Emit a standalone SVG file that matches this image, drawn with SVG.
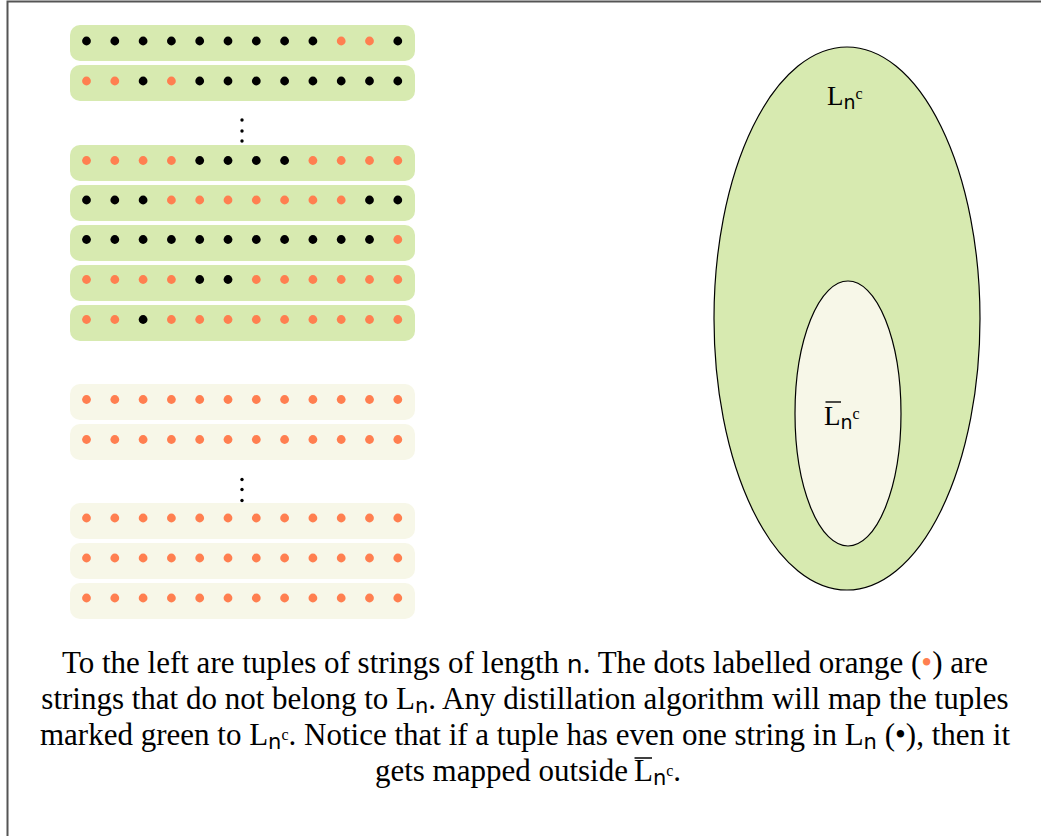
<svg xmlns="http://www.w3.org/2000/svg" xmlns:xlink="http://www.w3.org/1999/xlink" width="1041" height="836" viewBox="0 0 1041 836">
<style>
.g{fill:#d7eab0}
.b{fill:#f7f7e8}
.o{fill:#ff7f50}
.k{fill:#000}
.t{font-family:"Liberation Serif",serif;font-size:31px;fill:#000}
.lab{font-family:"Liberation Serif",serif;font-size:27px;fill:#000}
.m{font-family:"DejaVu Sans","Noto Sans",sans-serif}
</style>
<defs>
<circle id="O" r="4.4" class="o"/>
<circle id="B" r="4.4" class="k"/>
</defs>
<rect width="1041" height="836" fill="#fff"/>
<path d="M7.5 836V1.5H1041" fill="none" stroke="#555" stroke-width="2"/>
<g id="tuples-green">
<g id="row1"><rect x="70" y="25" width="345" height="36" rx="10" class="g"/>
<use xlink:href="#B" x="86.5" y="41"/><use xlink:href="#B" x="114.8" y="41"/><use xlink:href="#B" x="143.1" y="41"/><use xlink:href="#B" x="171.4" y="41"/><use xlink:href="#B" x="199.7" y="41"/><use xlink:href="#B" x="228" y="41"/><use xlink:href="#B" x="256.3" y="41"/><use xlink:href="#B" x="284.6" y="41"/><use xlink:href="#B" x="312.9" y="41"/><use xlink:href="#O" x="341.2" y="41"/><use xlink:href="#O" x="369.5" y="41"/><use xlink:href="#B" x="397.8" y="41"/></g>
<g id="row2"><rect x="70" y="65" width="345" height="36" rx="10" class="g"/>
<use xlink:href="#O" x="86.5" y="81"/><use xlink:href="#O" x="114.8" y="81"/><use xlink:href="#B" x="143.1" y="81"/><use xlink:href="#O" x="171.4" y="81"/><use xlink:href="#B" x="199.7" y="81"/><use xlink:href="#B" x="228" y="81"/><use xlink:href="#B" x="256.3" y="81"/><use xlink:href="#B" x="284.6" y="81"/><use xlink:href="#B" x="312.9" y="81"/><use xlink:href="#B" x="341.2" y="81"/><use xlink:href="#B" x="369.5" y="81"/><use xlink:href="#B" x="397.8" y="81"/></g>
<g id="vdots1"><circle cx="242" cy="120" r="1.7"/><circle cx="242" cy="131" r="1.7"/><circle cx="242" cy="141" r="1.7"/></g>
<g id="row3"><rect x="70" y="145" width="345" height="36" rx="10" class="g"/>
<use xlink:href="#O" x="86.5" y="160.5"/><use xlink:href="#O" x="114.8" y="160.5"/><use xlink:href="#O" x="143.1" y="160.5"/><use xlink:href="#O" x="171.4" y="160.5"/><use xlink:href="#B" x="199.7" y="160.5"/><use xlink:href="#B" x="228" y="160.5"/><use xlink:href="#B" x="256.3" y="160.5"/><use xlink:href="#B" x="284.6" y="160.5"/><use xlink:href="#O" x="312.9" y="160.5"/><use xlink:href="#O" x="341.2" y="160.5"/><use xlink:href="#O" x="369.5" y="160.5"/><use xlink:href="#O" x="397.8" y="160.5"/></g>
<g id="row4"><rect x="70" y="185" width="345" height="36" rx="10" class="g"/>
<use xlink:href="#B" x="86.5" y="200"/><use xlink:href="#B" x="114.8" y="200"/><use xlink:href="#B" x="143.1" y="200"/><use xlink:href="#O" x="171.4" y="200"/><use xlink:href="#O" x="199.7" y="200"/><use xlink:href="#O" x="228" y="200"/><use xlink:href="#O" x="256.3" y="200"/><use xlink:href="#O" x="284.6" y="200"/><use xlink:href="#O" x="312.9" y="200"/><use xlink:href="#O" x="341.2" y="200"/><use xlink:href="#B" x="369.5" y="200"/><use xlink:href="#B" x="397.8" y="200"/></g>
<g id="row5"><rect x="70" y="225" width="345" height="36" rx="10" class="g"/>
<use xlink:href="#B" x="86.5" y="239.5"/><use xlink:href="#B" x="114.8" y="239.5"/><use xlink:href="#B" x="143.1" y="239.5"/><use xlink:href="#B" x="171.4" y="239.5"/><use xlink:href="#B" x="199.7" y="239.5"/><use xlink:href="#B" x="228" y="239.5"/><use xlink:href="#B" x="256.3" y="239.5"/><use xlink:href="#B" x="284.6" y="239.5"/><use xlink:href="#B" x="312.9" y="239.5"/><use xlink:href="#B" x="341.2" y="239.5"/><use xlink:href="#B" x="369.5" y="239.5"/><use xlink:href="#O" x="397.8" y="239.5"/></g>
<g id="row6"><rect x="70" y="265" width="345" height="36" rx="10" class="g"/>
<use xlink:href="#O" x="86.5" y="279.5"/><use xlink:href="#O" x="114.8" y="279.5"/><use xlink:href="#O" x="143.1" y="279.5"/><use xlink:href="#O" x="171.4" y="279.5"/><use xlink:href="#B" x="199.7" y="279.5"/><use xlink:href="#B" x="228" y="279.5"/><use xlink:href="#O" x="256.3" y="279.5"/><use xlink:href="#O" x="284.6" y="279.5"/><use xlink:href="#O" x="312.9" y="279.5"/><use xlink:href="#O" x="341.2" y="279.5"/><use xlink:href="#O" x="369.5" y="279.5"/><use xlink:href="#O" x="397.8" y="279.5"/></g>
<g id="row7"><rect x="70" y="305" width="345" height="36" rx="10" class="g"/>
<use xlink:href="#O" x="86.5" y="319.5"/><use xlink:href="#O" x="114.8" y="319.5"/><use xlink:href="#B" x="143.1" y="319.5"/><use xlink:href="#O" x="171.4" y="319.5"/><use xlink:href="#O" x="199.7" y="319.5"/><use xlink:href="#O" x="228" y="319.5"/><use xlink:href="#O" x="256.3" y="319.5"/><use xlink:href="#O" x="284.6" y="319.5"/><use xlink:href="#O" x="312.9" y="319.5"/><use xlink:href="#O" x="341.2" y="319.5"/><use xlink:href="#O" x="369.5" y="319.5"/><use xlink:href="#O" x="397.8" y="319.5"/></g>
</g>
<g id="tuples-beige">
<g id="row8"><rect x="70" y="384" width="345" height="36" rx="10" class="b"/>
<use xlink:href="#O" x="86.5" y="399.5"/><use xlink:href="#O" x="114.8" y="399.5"/><use xlink:href="#O" x="143.1" y="399.5"/><use xlink:href="#O" x="171.4" y="399.5"/><use xlink:href="#O" x="199.7" y="399.5"/><use xlink:href="#O" x="228" y="399.5"/><use xlink:href="#O" x="256.3" y="399.5"/><use xlink:href="#O" x="284.6" y="399.5"/><use xlink:href="#O" x="312.9" y="399.5"/><use xlink:href="#O" x="341.2" y="399.5"/><use xlink:href="#O" x="369.5" y="399.5"/><use xlink:href="#O" x="397.8" y="399.5"/></g>
<g id="row9"><rect x="70" y="424" width="345" height="36" rx="10" class="b"/>
<use xlink:href="#O" x="86.5" y="439.5"/><use xlink:href="#O" x="114.8" y="439.5"/><use xlink:href="#O" x="143.1" y="439.5"/><use xlink:href="#O" x="171.4" y="439.5"/><use xlink:href="#O" x="199.7" y="439.5"/><use xlink:href="#O" x="228" y="439.5"/><use xlink:href="#O" x="256.3" y="439.5"/><use xlink:href="#O" x="284.6" y="439.5"/><use xlink:href="#O" x="312.9" y="439.5"/><use xlink:href="#O" x="341.2" y="439.5"/><use xlink:href="#O" x="369.5" y="439.5"/><use xlink:href="#O" x="397.8" y="439.5"/></g>
<g id="vdots2"><circle cx="242" cy="479.5" r="1.7"/><circle cx="242" cy="489.5" r="1.7"/><circle cx="242" cy="500.5" r="1.7"/></g>
<g id="row10"><rect x="70" y="503" width="345" height="36" rx="10" class="b"/>
<use xlink:href="#O" x="86.5" y="518"/><use xlink:href="#O" x="114.8" y="518"/><use xlink:href="#O" x="143.1" y="518"/><use xlink:href="#O" x="171.4" y="518"/><use xlink:href="#O" x="199.7" y="518"/><use xlink:href="#O" x="228" y="518"/><use xlink:href="#O" x="256.3" y="518"/><use xlink:href="#O" x="284.6" y="518"/><use xlink:href="#O" x="312.9" y="518"/><use xlink:href="#O" x="341.2" y="518"/><use xlink:href="#O" x="369.5" y="518"/><use xlink:href="#O" x="397.8" y="518"/></g>
<g id="row11"><rect x="70" y="543" width="345" height="36" rx="10" class="b"/>
<use xlink:href="#O" x="86.5" y="558"/><use xlink:href="#O" x="114.8" y="558"/><use xlink:href="#O" x="143.1" y="558"/><use xlink:href="#O" x="171.4" y="558"/><use xlink:href="#O" x="199.7" y="558"/><use xlink:href="#O" x="228" y="558"/><use xlink:href="#O" x="256.3" y="558"/><use xlink:href="#O" x="284.6" y="558"/><use xlink:href="#O" x="312.9" y="558"/><use xlink:href="#O" x="341.2" y="558"/><use xlink:href="#O" x="369.5" y="558"/><use xlink:href="#O" x="397.8" y="558"/></g>
<g id="row12"><rect x="70" y="583" width="345" height="36" rx="10" class="b"/>
<use xlink:href="#O" x="86.5" y="598"/><use xlink:href="#O" x="114.8" y="598"/><use xlink:href="#O" x="143.1" y="598"/><use xlink:href="#O" x="171.4" y="598"/><use xlink:href="#O" x="199.7" y="598"/><use xlink:href="#O" x="228" y="598"/><use xlink:href="#O" x="256.3" y="598"/><use xlink:href="#O" x="284.6" y="598"/><use xlink:href="#O" x="312.9" y="598"/><use xlink:href="#O" x="341.2" y="598"/><use xlink:href="#O" x="369.5" y="598"/><use xlink:href="#O" x="397.8" y="598"/></g>
</g>
<g id="outer-set">
<ellipse cx="847" cy="318.5" rx="133" ry="271.5" class="g" stroke="#000" stroke-width="1.2"/>
<text class="lab" x="827" y="105">L<tspan class="m" font-size="19" dy="4">n</tspan><tspan font-size="16" dy="-10">c</tspan></text>
</g>
<g id="inner-set">
<ellipse cx="848" cy="413.5" rx="53" ry="132.5" class="b" stroke="#000" stroke-width="1.2"/>
<line x1="825.5" y1="402" x2="841" y2="402" stroke="#000" stroke-width="1.4"/>
<text class="lab" x="824" y="425">L<tspan class="m" font-size="19" dy="4">n</tspan><tspan font-size="16" dy="-10">c</tspan></text>
</g>
<g id="connectors"/>
<g id="caption" class="t">
<text x="525" y="673" text-anchor="middle">To the left are tuples of strings of length <tspan class="m" font-size="25">n</tspan>. The dots labelled orange (<tspan class="o">•</tspan>) are</text>
<text x="525" y="709" text-anchor="middle">strings that do not belong to L<tspan class="m" font-size="21" dy="4">n</tspan><tspan dy="-4">. Any distillation algorithm will map the tuples</tspan></text>
<text x="525" y="745" text-anchor="middle">marked green to L<tspan class="m" font-size="21" dy="4">n</tspan><tspan font-size="16" dy="-9">c</tspan><tspan dy="5">. Notice that if a tuple has even one string in L</tspan><tspan class="m" font-size="21" dy="4">n</tspan><tspan dy="-4"> (•), then it</tspan></text>
<text x="628" y="781" text-anchor="end">gets mapped outside</text>
<text x="634" y="781">L<tspan class="m" font-size="21" dy="4">n</tspan><tspan font-size="16" dy="-9">c</tspan><tspan dy="5">.</tspan></text>
<line x1="634.5" y1="758" x2="652" y2="758" stroke="#000" stroke-width="1.5"/>
</g>
</svg>
